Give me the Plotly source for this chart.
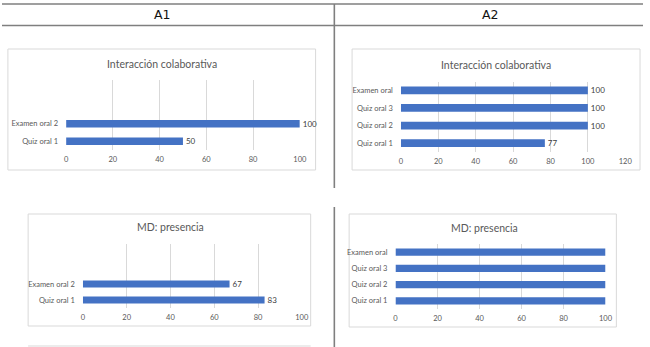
import plotly.graph_objects as go

W, H = 650, 347

# ---- data ----
c1_categories = ["Quiz oral 1", "Examen oral 2", " ", "  "]
c1_values = [50, 100, None, None]

c2_categories = ["Quiz oral 1", "Quiz oral 2", "Quiz oral 3", "Examen oral"]
c2_values = [77, 100, 100, 100]

c3_categories = ["Quiz oral 1", "Examen oral 2", " ", "  "]
c3_values = [83, 67, None, None]

c4_categories = ["Quiz oral 1", "Quiz oral 2", "Quiz oral 3", "Examen oral"]
c4_values = [100, 100, 100, 100]

titles = ["Interacción colaborativa", "Interacción colaborativa", "MD: presencia", "MD: presencia"]
headers = ["A1", "A2"]

BAR = "#4472C4"
TXT = "#595959"
GRID = "#D9D9D9"
FONT = "Lato"


def px(x):
    return x / W


def py(y):
    return 1 - y / H


# plot area boxes in pixels: (x0, x1, ytop, ybottom), x max
areas = [
    (65, 302, 80, 150, 100),
    (404.5, 632, 81.5, 152, 120),
    (82, 304, 244, 308, 100),
    (399, 612, 244, 309, 100),
]
cats = [c1_categories, c2_categories, c3_categories, c4_categories]
vals = [c1_values, c2_values, c3_values, c4_values]
show_text = [True, True, True, False]

fig = go.Figure()
layout = dict(
    width=W, height=H, margin=dict(l=0, r=0, t=0, b=0),
    paper_bgcolor="white", plot_bgcolor="rgba(0,0,0,0)",
    showlegend=False, bargap=0.56,
    font=dict(family=FONT, color=TXT),
)

for i, ((x0, x1, yt, yb, xmax), c, v, st) in enumerate(zip(areas, cats, vals, show_text)):
    n = "" if i == 0 else str(i + 1)
    fig.add_trace(go.Bar(
        y=c, x=v, orientation="h", marker=dict(color=BAR, line=dict(width=0)),
        text=[("" if val is None else str(val)) for val in v] if st else None,
        textposition="outside" if st else "none",
        constraintext="none",
        textfont=dict(size=8, color="#404040", family=FONT),
        cliponaxis=False,
        xaxis="x" + n, yaxis="y" + n,
    ))
    layout["xaxis" + n] = dict(
        domain=[px(x0), px(x1)], range=[0, xmax], dtick=20, anchor="y" + n,
        showgrid=True, gridcolor=GRID, gridwidth=1, zeroline=False, showline=False,
        tickfont=dict(size=7.5, color=TXT, family=FONT), ticks="", ticklabelstandoff=3,
        fixedrange=True,
    )
    layout["yaxis" + n] = dict(
        domain=[py(yb), py(yt)], type="category", categoryorder="array", categoryarray=c,
        range=[-0.5, len(c) - 0.5], anchor="x" + n,
        showgrid=False, zeroline=False, showline=False, ticks="",
        tickfont=dict(size=7.5, color=TXT, family=FONT), ticklabelstandoff=7,
        fixedrange=True,
    )

fig.update_layout(**layout)

# chart borders
boxes = [(6, 318, 49, 170), (355, 647, 49, 170), (26.5, 313, 214, 326), (352, 623, 214, 327)]
shapes = []
for (x0, x1, y0, y1) in boxes:
    shapes.append(dict(type="rect", xref="paper", yref="paper", x0=px(x0), x1=px(x1),
                       y0=py(y1), y1=py(y0), line=dict(color=GRID, width=1), layer="below"))
# partial box at bottom
shapes.append(dict(type="line", xref="paper", yref="paper", x0=px(26.5), x1=px(313),
                   y0=py(346), y1=py(346), line=dict(color=GRID, width=1)))
# table lines
TL = "#7F7F7F"
for yy in (4, 25.5):
    shapes.append(dict(type="line", xref="paper", yref="paper", x0=0, x1=1,
                       y0=py(yy), y1=py(yy), line=dict(color=TL, width=1.6)))
shapes.append(dict(type="line", xref="paper", yref="paper", x0=px(337), x1=px(337),
                   y0=py(4), y1=py(188), line=dict(color=TL, width=1.6)))
shapes.append(dict(type="line", xref="paper", yref="paper", x0=px(337), x1=px(337),
                   y0=py(207), y1=py(347), line=dict(color=TL, width=1.6)))
fig.update_layout(shapes=shapes)

# titles
title_pos = [(162, 64), (501, 65), (171, 227), (489, 228)]
ann = []
for t, (x, y) in zip(titles, title_pos):
    ann.append(dict(text=t, x=px(x), y=py(y), xref="paper", yref="paper", showarrow=False,
                    xanchor="center", yanchor="middle",
                    font=dict(size=10.5, color=TXT, family=FONT)))
for h, x in zip(headers, (163, 495)):
    ann.append(dict(text=h, x=px(x), y=py(15), xref="paper", yref="paper", showarrow=False,
                    xanchor="center", yanchor="middle",
                    font=dict(size=12.5, color="#111111", family="DejaVu Sans")))
fig.update_layout(annotations=ann)

fig.write_html("out.html", config={"displayModeBar": False, "staticPlot": True},
               post_script="document.body.style.margin='0';document.body.style.overflow='hidden';")
